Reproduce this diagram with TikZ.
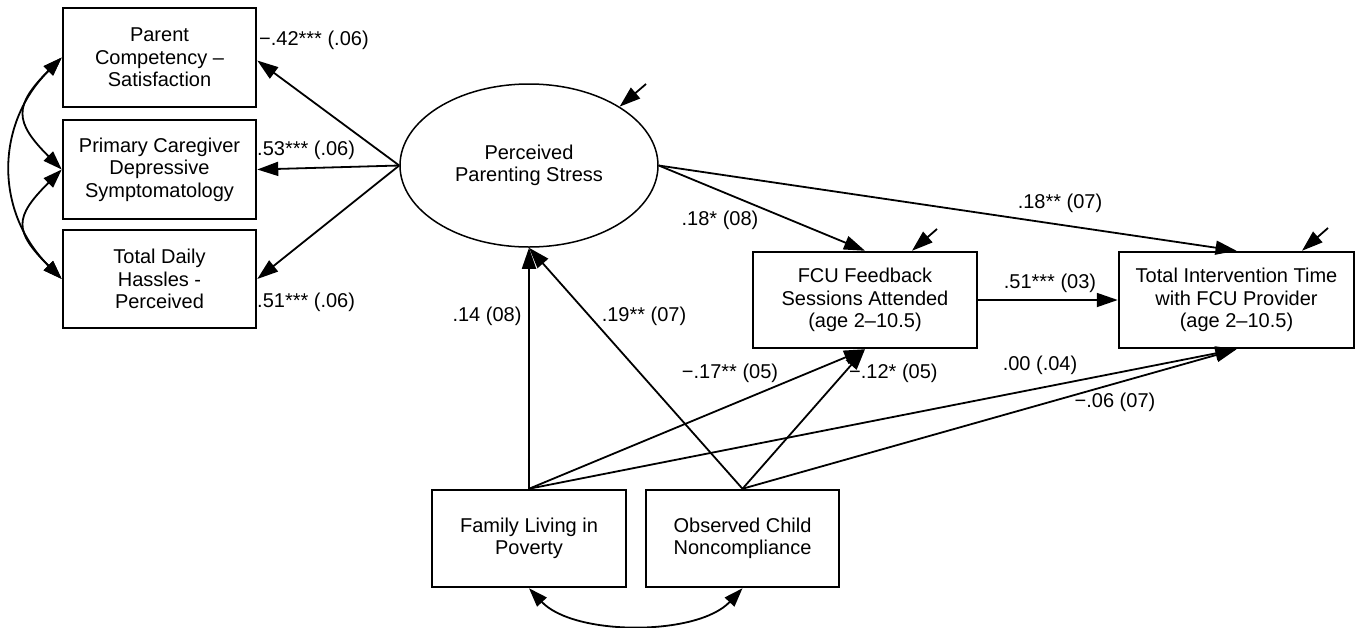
\documentclass[tikz,border=0pt]{standalone}
\usepackage{fontspec}
\setmainfont{Liberation Sans}
\usetikzlibrary{arrows.meta,shapes.geometric}
\begin{document}
\begin{tikzpicture}[x=1pt,y=-1pt,
  every node/.style={font=\fontsize{20}{22.5}\selectfont},
  box/.style={draw, line width=2.5pt, align=center, inner sep=0pt},
  lat/.style={draw, ellipse, line width=1.5pt, align=center, minimum width=258pt, minimum height=163pt, inner sep=0pt},
  conn/.style={line width=1.8pt, -{Triangle[length=21pt,width=14pt]}},
  dbl/.style={line width=1.8pt, {Triangle[length=19pt,width=13pt]}-{Triangle[length=19pt,width=13pt]}},
  lab/.style={inner sep=0pt}
]
\useasboundingbox (0,0) rectangle (1362,627);

% nodes
\node[box, minimum width=193pt, minimum height=99pt] (b1) at (159.5,57.5) {Parent\\Competency –\\Satisfaction};
\node[box, minimum width=193pt, minimum height=99pt] (b2) at (159.5,169.5) {Primary Caregiver\\Depressive\\Symptomatology};
\node[box, minimum width=193pt, minimum height=98pt] (b3) at (159.5,279) {Total Daily\\Hassles -\\Perceived};
\node[lat] (ps) at (529,165.5) {Perceived\\Parenting Stress};
\node[box, minimum width=224pt, minimum height=96pt] (fcu) at (865,300) {FCU Feedback\\Sessions Attended\\(age 2–10.5)};
\node[box, minimum width=235pt, minimum height=96pt] (tot) at (1236.5,300) {Total Intervention Time\\with FCU Provider\\(age 2–10.5)};
\node[box, minimum width=194pt, minimum height=97pt] (fam) at (529,538.5) {Family Living in\\Poverty};
\node[box, minimum width=193pt, minimum height=97pt] (obs) at (742.5,538.5) {Observed Child\\Noncompliance};

% residual free ends
\coordinate (r0) at (646,84);
\coordinate (r1) at (937,229);
\coordinate (r2) at (1328,228);

% connectors
\draw[conn] (ps.west) -- ([yshift=-3pt]b1.east);
\draw[conn] (ps.west) -- (b2.east);
\draw[conn] (ps.west) -- (b3.east);
\draw[conn] (ps.east) -- (fcu.north);
\draw[conn] (ps.east) -- (tot.north);
\draw[conn] (fcu.east) -- (tot.west);
\draw[conn] (fam.north) -- (ps.south);
\draw[conn] (obs.north) -- (ps.south);
\draw[conn] (fam.north) -- (fcu.south);
\draw[conn] (obs.north) -- (fcu.south);
\draw[conn] (fam.north) -- (tot.south);
\draw[conn] (obs.north) -- (tot.south);
\draw[conn] (r0) -- (ps.33);
\draw[conn] (r1) -- ([xshift=47pt]fcu.north);
\draw[conn] (r2) -- ([xshift=65.5pt]tot.north);

% covariances
\draw[dbl] (b1.west) .. controls +(-48,48) and +(-48,-48) .. (b2.west);
\draw[dbl] (b2.west) .. controls +(-48,48) and +(-48,-48) .. (b3.west);
\draw[dbl] (b1.west) .. controls +(-67,67) and +(-67,-67) .. (b3.west);
\draw[dbl] (fam.south) .. controls +(45,48) and +(-45,48) .. (obs.south);

% labels
\node[lab, anchor=west] (l1) at (259,40) {−.42*** (.06)};
\node[lab, anchor=west] (l2) at (257,150) {.53*** (.06)};
\node[lab, anchor=west] (l3) at (257,302) {.51*** (.06)};
\node[lab] (l4) at (720,220) {.18* (08)};
\node[lab] (l5) at (1060,203) {.18** (07)};
\node[lab] (l6) at (1050,283) {.51*** (03)};
\node[lab] (l7) at (487,316) {.14 (08)};
\node[lab] (l8) at (644,316) {.19** (07)};
\node[lab] (l9) at (730,373) {−.17** (05)};
\node[lab, anchor=west] (l10) at (849,373) {−.12* (05)};
\node[lab] (l11) at (1040,365) {.00 (.04)};
\node[lab] (l12) at (1115,402) {−.06 (07)};
\end{tikzpicture}
\end{document}
